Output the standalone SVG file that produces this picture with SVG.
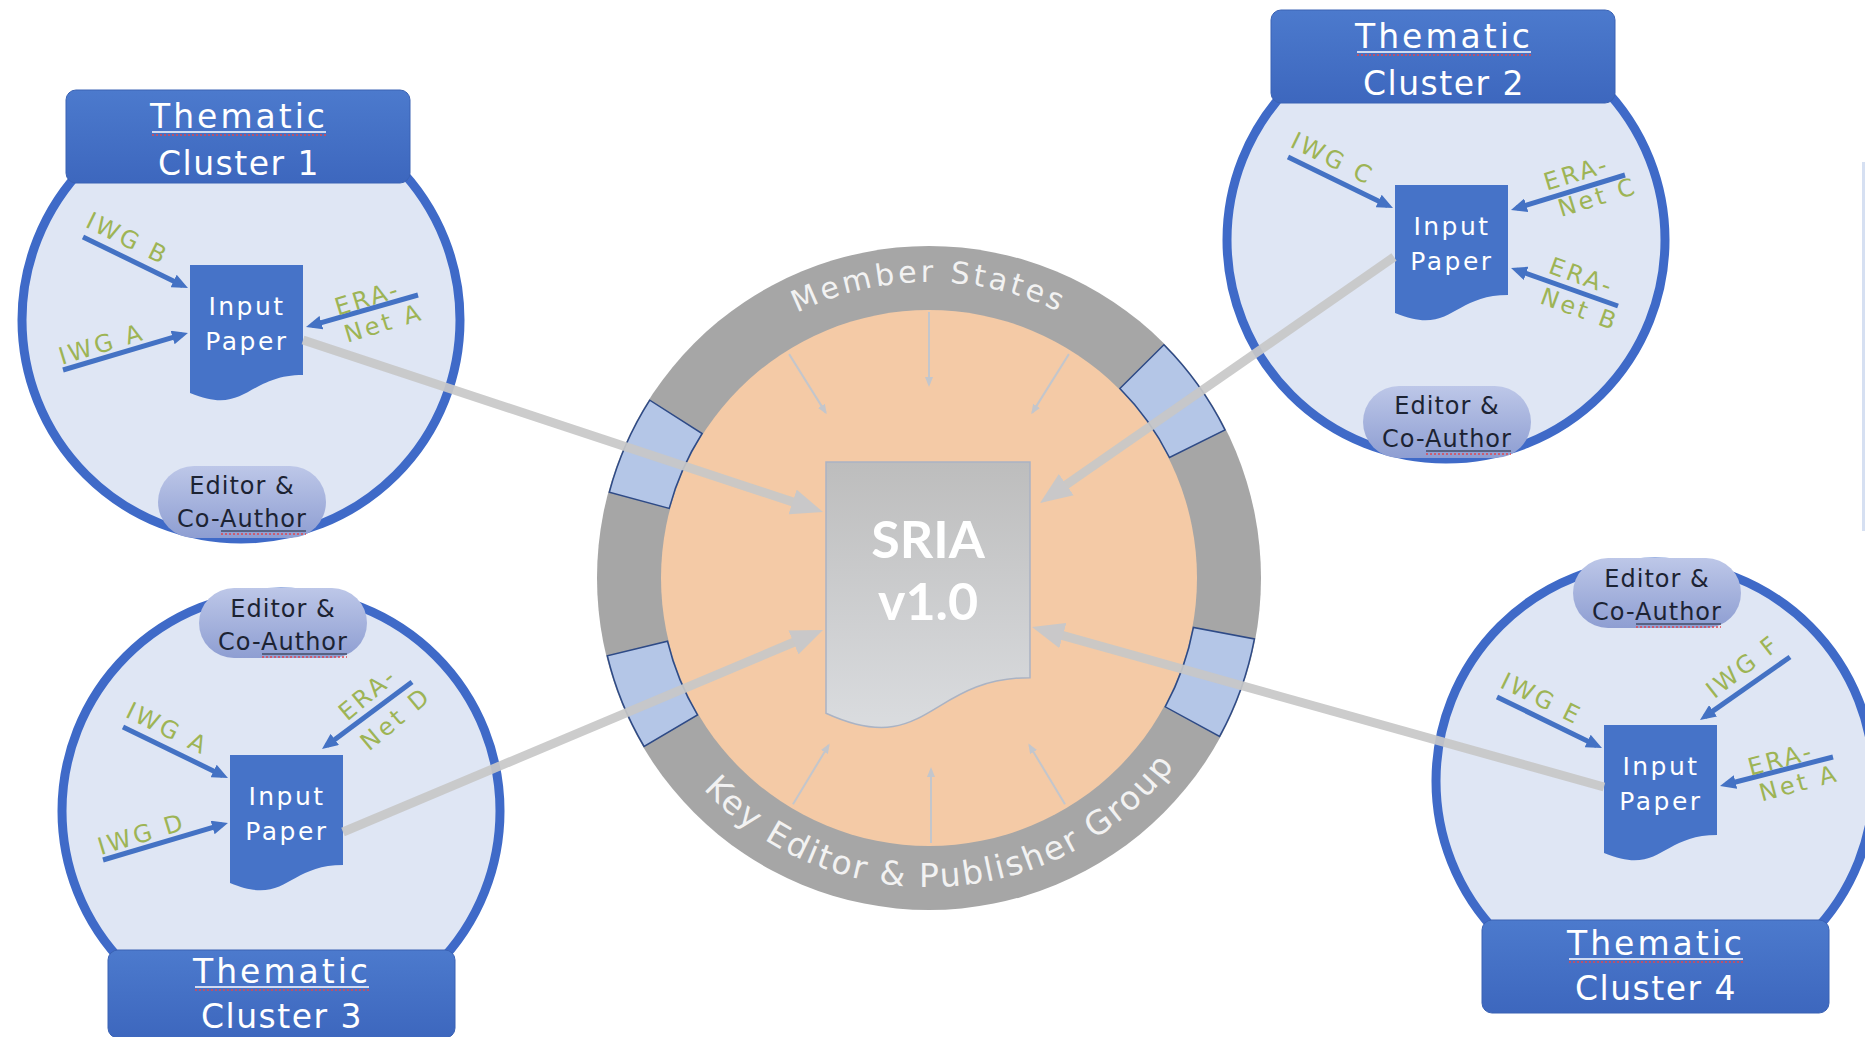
<svg xmlns="http://www.w3.org/2000/svg" width="1865" height="1037" viewBox="0 0 1865 1037">
<style>
text{font-family:"DejaVu Sans","Liberation Sans",sans-serif}
.frame{fill:#dfe6f4;stroke:#3f6ac8;stroke-width:9}
.title{fill:url(#tg);stroke:#3a62b4;stroke-width:1}
.ttl{font-size:33px;fill:#ffffff;letter-spacing:3px;text-anchor:middle}
.ttl2{font-size:33px;fill:#ffffff;letter-spacing:1.5px;text-anchor:middle}
.ul{stroke:#ffffff;stroke-width:1.5}
.sq{stroke:#e0474f;stroke-width:1.5;stroke-dasharray:2 2;fill:none}
.paper{fill:#4673c8}
.ptxt{font-size:25px;fill:#ffffff;letter-spacing:2.5px;text-anchor:middle}
.pill{fill:url(#pg)}
.pilltxt{font-size:24px;fill:#1c2333;letter-spacing:1px;text-anchor:middle}
.aul{stroke:#1c2333;stroke-width:1}
.barrow{stroke:#4472c4;stroke-width:5;fill:none;marker-end:url(#bh)}
.lbl{font-size:24px;fill:#9db455;letter-spacing:3px;text-anchor:middle}
.conn{stroke:#c8c8c8;stroke-width:9;fill:none;opacity:0.92;marker-end:url(#gh)}
.thin{stroke:#c3c6cc;stroke-width:2;fill:none;marker-end:url(#th)}
.box{fill:#b4c6e7;stroke:#2e4a86;stroke-width:1.5}
.ring{font-size:30px;fill:#f2f2f2;letter-spacing:3.5px}
</style>
<defs>
<linearGradient id="tg" x1="0" y1="0" x2="0" y2="1"><stop offset="0" stop-color="#4c7acd"/><stop offset="1" stop-color="#3d67be"/></linearGradient>
<linearGradient id="pg" x1="0" y1="0" x2="0" y2="1"><stop offset="0" stop-color="#bdc7e8"/><stop offset="1" stop-color="#8e9ed2"/></linearGradient>
<linearGradient id="dg" x1="0" y1="0" x2="0" y2="1"><stop offset="0" stop-color="#bdbdbd"/><stop offset="1" stop-color="#dadcdf"/></linearGradient>
<marker id="bh" viewBox="0 0 16 14" markerWidth="16" markerHeight="14" refX="10" refY="7" orient="auto" markerUnits="userSpaceOnUse"><path d="M0,0 L16,7 L0,14 Z" fill="#4472c4"/></marker>
<marker id="gh" viewBox="0 0 32 26" markerWidth="32" markerHeight="26" refX="10" refY="13" orient="auto" markerUnits="userSpaceOnUse"><path d="M0,0 L32,13 L0,26 Z" fill="#c6c8cc"/></marker>
<marker id="th" viewBox="0 0 10 8" markerWidth="10" markerHeight="8" refX="8" refY="4" orient="auto" markerUnits="userSpaceOnUse"><path d="M0,0 L10,4 L0,8 Z" fill="#c3c6cc"/></marker>
<path id="arcTop" d="M763.5,332.6 A296,296 0 0 1 1094.5,332.6"/>
<path id="arcBot" d="M669.8,746.3 A309,309 0 0 0 1204.3,718.3"/>
</defs>

<rect x="0" y="0" width="1865" height="1037" fill="#ffffff"/>
<rect x="1862" y="162" width="3" height="369" fill="#d6e0f2"/>

<g id="sria-hub">
<circle cx="929" cy="578" r="332" fill="#a6a6a6"/>
<circle cx="929" cy="578" r="268" fill="#f4caa6"/>
<path class="box" d="M609.3,492.3 A331,331 0 0 1 649.8,400.2 L702.1,433.5 A269,269 0 0 0 669.2,508.4 Z"/>
<path class="box" d="M1163.9,344.8 A331,331 0 0 1 1225.0,429.8 L1169.5,457.5 A269,269 0 0 0 1119.9,388.5 Z"/>
<path class="box" d="M1254.4,638.9 A331,331 0 0 1 1219.6,736.4 L1165.2,706.8 A269,269 0 0 0 1193.4,627.5 Z"/>
<path class="box" d="M644.1,746.5 A331,331 0 0 1 607.3,655.8 L667.5,641.2 A269,269 0 0 0 697.5,714.9 Z"/>
<text class="ring"><textPath href="#arcTop" startOffset="50%" text-anchor="middle">Member States</textPath></text>
<text class="ring" style="font-size:33px;letter-spacing:2.2px"><textPath href="#arcBot" startOffset="50%" text-anchor="middle">Key Editor &amp; Publisher Group</textPath></text>
<line class="thin" x1="789.1" y1="354.1" x2="825.7" y2="412.6"/>
<line class="thin" x1="929" y1="312" x2="929" y2="385"/>
<line class="thin" x1="1068.9" y1="354.1" x2="1032.3" y2="412.6"/>
<line class="thin" x1="1065" y1="804.3" x2="1029.4" y2="745.2"/>
<line class="thin" x1="931" y1="843" x2="931" y2="769"/>
<line class="thin" x1="793" y1="804.3" x2="828.6" y2="745.2"/>
<path d="M826,462 H1030 V677.7 C928,677.7 928,759.8 826,713.2 Z" fill="url(#dg)" stroke="#aab3c4" stroke-width="1.5"/>
<text x="928" y="558" style="font-family:Lato,'Liberation Sans',sans-serif;font-weight:bold;font-size:52px;fill:#ffffff;text-anchor:middle">SRIA</text>
<text x="928" y="620" style="font-family:Lato,'Liberation Sans',sans-serif;font-weight:bold;font-size:52px;fill:#ffffff;text-anchor:middle">v1.0</text>
</g>

<g id="cluster1">
<circle class="frame" cx="241" cy="320" r="219"/>
<rect class="title" x="66" y="90" width="344" height="93" rx="10"/>
<text class="ttl" x="239" y="128">Thematic</text>
<line class="ul" x1="152" y1="132" x2="326" y2="132"/>
<line class="sq" x1="152" y1="135" x2="326" y2="135"/>
<text class="ttl2" x="239" y="175">Cluster 1</text>
<path class="paper" d="M190,265 H303 V374.9 C246.5,374.9 246.5,416.7 190,393 Z"/>
<text class="ptxt" x="247" y="315">Input</text>
<text class="ptxt" x="247" y="350">Paper</text>
<line class="barrow" x1="83" y1="237" x2="182.6" y2="285.4"/>
<line class="barrow" x1="63" y1="370" x2="182.2" y2="334.7"/>
<line class="barrow" x1="418" y1="295" x2="311.8" y2="325.4"/>
<text class="lbl" transform="translate(124,246) rotate(26)">IWG B</text>
<text class="lbl" transform="translate(104,352) rotate(-17)">IWG A</text>
<text class="lbl" transform="translate(370,306) rotate(-17)">ERA-</text>
<text class="lbl" transform="translate(386,331) rotate(-17)">Net A</text>
<rect class="pill" x="158" y="466" width="168" height="72" rx="36"/>
<text class="pilltxt" x="242" y="494">Editor &amp;</text>
<text class="pilltxt" x="242" y="527">Co-Author</text>
<line class="aul" x1="221" y1="531" x2="306" y2="531"/>
<line class="sq" x1="221" y1="534" x2="306" y2="534"/>
</g>

<g id="cluster2" transform="translate(1205,-80)">
<circle class="frame" cx="241" cy="320" r="219"/>
<rect class="title" x="66" y="90" width="344" height="93" rx="10"/>
<text class="ttl" x="239" y="128">Thematic</text>
<line class="ul" x1="152" y1="132" x2="326" y2="132"/>
<line class="sq" x1="152" y1="135" x2="326" y2="135"/>
<text class="ttl2" x="239" y="175">Cluster 2</text>
<path class="paper" d="M190,265 H303 V374.9 C246.5,374.9 246.5,416.7 190,393 Z"/>
<text class="ptxt" x="247" y="315">Input</text>
<text class="ptxt" x="247" y="350">Paper</text>
<line class="barrow" x1="83" y1="237" x2="182.6" y2="285.4"/>
<line class="barrow" x1="420" y1="255" x2="311.7" y2="288.2"/>
<line class="barrow" x1="413" y1="386" x2="311.7" y2="350"/>
<text class="lbl" transform="translate(124,246) rotate(26)">IWG C</text>
<text class="lbl" transform="translate(374,261) rotate(-17)">ERA-</text>
<text class="lbl" transform="translate(395,285) rotate(-17)">Net C</text>
<text class="lbl" transform="translate(374,364) rotate(20)">ERA-</text>
<text class="lbl" transform="translate(372,397) rotate(20)">Net B</text>
<rect class="pill" x="158" y="466" width="168" height="72" rx="36"/>
<text class="pilltxt" x="242" y="494">Editor &amp;</text>
<text class="pilltxt" x="242" y="527">Co-Author</text>
<line class="aul" x1="221" y1="531" x2="306" y2="531"/>
<line class="sq" x1="221" y1="534" x2="306" y2="534"/>
</g>

<g id="cluster3">
<circle class="frame" cx="281" cy="811" r="219"/>
<rect class="title" x="108" y="950" width="347" height="88" rx="10"/>
<text class="ttl" x="282" y="983">Thematic</text>
<line class="ul" x1="195" y1="987" x2="369" y2="987"/>
<line class="sq" x1="195" y1="990" x2="369" y2="990"/>
<text class="ttl2" x="282" y="1028">Cluster 3</text>
<path class="paper" d="M230,755 H343 V864.9 C286.5,864.9 286.5,906.7 230,883 Z"/>
<text class="ptxt" x="287" y="805">Input</text>
<text class="ptxt" x="287" y="840">Paper</text>
<line class="barrow" x1="123" y1="727" x2="222.6" y2="775.4"/>
<line class="barrow" x1="103" y1="860" x2="222.2" y2="824.7"/>
<line class="barrow" x1="412" y1="682" x2="326.8" y2="745.4"/>
<text class="lbl" transform="translate(164,736) rotate(26)">IWG A</text>
<text class="lbl" transform="translate(144,842) rotate(-17)">IWG D</text>
<text class="lbl" transform="translate(373,700) rotate(-40)">ERA-</text>
<text class="lbl" transform="translate(401,725) rotate(-40)">Net D</text>
<rect class="pill" x="199" y="588" width="168" height="70" rx="35"/>
<text class="pilltxt" x="283" y="617">Editor &amp;</text>
<text class="pilltxt" x="283" y="650">Co-Author</text>
<line class="aul" x1="262" y1="654" x2="347" y2="654"/>
<line class="sq" x1="262" y1="657" x2="347" y2="657"/>
</g>

<g id="cluster4" transform="translate(1374,-30)">
<circle class="frame" cx="281" cy="811" r="219"/>
<rect class="title" x="108" y="950" width="347" height="93" rx="10"/>
<text class="ttl" x="282" y="985">Thematic</text>
<line class="ul" x1="195" y1="989" x2="369" y2="989"/>
<line class="sq" x1="195" y1="992" x2="369" y2="992"/>
<text class="ttl2" x="282" y="1030">Cluster 4</text>
<path class="paper" d="M230,755 H343 V864.9 C286.5,864.9 286.5,906.7 230,883 Z"/>
<text class="ptxt" x="287" y="805">Input</text>
<text class="ptxt" x="287" y="840">Paper</text>
<line class="barrow" x1="123" y1="727" x2="222.6" y2="775.4"/>
<line class="barrow" x1="416" y1="687" x2="330.9" y2="746.6"/>
<line class="barrow" x1="459" y1="787" x2="351.8" y2="814.5"/>
<text class="lbl" transform="translate(164,736) rotate(26)">IWG E</text>
<text class="lbl" transform="translate(374,703) rotate(-38)">IWG F</text>
<text class="lbl" transform="translate(409,797) rotate(-15)">ERA-</text>
<text class="lbl" transform="translate(427,821) rotate(-15)">Net A</text>
<rect class="pill" x="199" y="588" width="168" height="70" rx="35"/>
<text class="pilltxt" x="283" y="617">Editor &amp;</text>
<text class="pilltxt" x="283" y="650">Co-Author</text>
<line class="aul" x1="262" y1="654" x2="347" y2="654"/>
<line class="sq" x1="262" y1="657" x2="347" y2="657"/>
</g>

<g id="connectors">
<line class="conn" x1="303" y1="340" x2="802.1" y2="505.1"/>
<line class="conn" x1="1394" y1="257" x2="1058.1" y2="490.4"/>
<line class="conn" x1="343" y1="832" x2="802.7" y2="638.5"/>
<line class="conn" x1="1604" y1="787" x2="1053.2" y2="632.9"/>
</g>
</svg>
